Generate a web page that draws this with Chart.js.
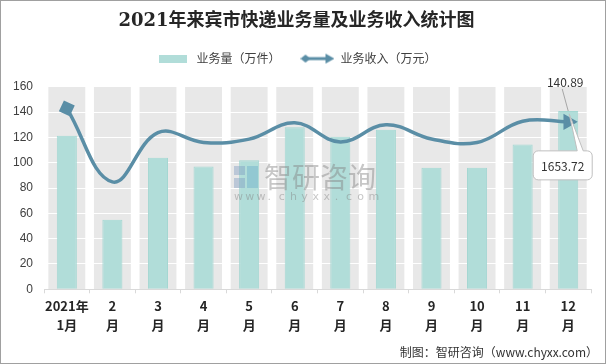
<!DOCTYPE html>
<html>
<head>
<meta charset="utf-8">
<script src="https://cdn.jsdelivr.net/npm/chart.js@4.4.0/dist/chart.umd.min.js"></script>
<style>
html, body { margin: 0; padding: 0; background: #fff; }
#wrap { width: 606px; height: 364px; }
</style>
</head>
<body>
<div id="wrap"><canvas id="chart" width="606" height="364"></canvas></div>
<script>
// data
const months = [["2021年", "1月"], ["2", "月"], ["3", "月"], ["4", "月"], ["5", "月"], ["6", "月"],
                ["7", "月"], ["8", "月"], ["9", "月"], ["10", "月"], ["11", "月"], ["12", "月"]];
const volume = [121.3, 54.9, 104, 97, 102, 128, 120.5, 126, 96, 96, 114.5, 140.89];   // 万件
const revenue = [1787, 1061, 1547, 1450, 1483, 1644, 1456, 1625, 1485, 1450, 1660, 1653.72]; // 万元
const volumeLabel = "业务量（万件）";
const revenueLabel = "业务收入（万元）";

const barColor = "#B1DDD9";
const lineColor = "#5A8EA6";
const cjk = "'Noto Sans CJK SC', 'Noto Sans', sans-serif";

function makeIcon(w, h, draw) {
    var c = document.createElement("canvas");
    c.width = w; c.height = h;
    draw(c.getContext("2d"));
    return c;
}
const boxIcon = makeIcon(28, 8, function (ctx) {
    ctx.fillStyle = barColor;
    ctx.fillRect(0, 0, 28, 8);
});
const arrowIcon = makeIcon(34, 12, function (ctx) {
    ctx.strokeStyle = lineColor;
    ctx.fillStyle = lineColor;
    ctx.lineWidth = 3;
    ctx.beginPath(); ctx.moveTo(5, 6); ctx.lineTo(28, 6); ctx.stroke();
    ctx.beginPath(); ctx.moveTo(0, 6); ctx.lineTo(5, 2); ctx.lineTo(10, 6); ctx.lineTo(5, 10); ctx.closePath(); ctx.fill();
    ctx.beginPath(); ctx.moveTo(34, 6); ctx.lineTo(25, 1); ctx.lineTo(25, 11); ctx.closePath(); ctx.fill();
});

// gray column bands behind the grid
const bandPlugin = {
    id: "bands",
    beforeDraw: function (chart) {
        var ctx = chart.ctx;
        var x = chart.scales.x, y = chart.scales.y;
        ctx.save();
        ctx.fillStyle = "#fff";
        ctx.fillRect(0, 0, chart.width, chart.height);
        var step = x.width / months.length;
        var w = step * 0.81;
        var top = y.getPixelForValue(160);
        ctx.fillStyle = "#E8E8E8";
        for (var i = 0; i < months.length; i++) {
            var cx = x.getPixelForValue(i);
            ctx.fillRect(cx - w / 2, top, w, y.getPixelForValue(0) - top);
        }
        ctx.restore();
    }
};

const extrasPlugin = {
    id: "extras",
    afterDatasetsDraw: function (chart) {
        var ctx = chart.ctx;
        ctx.save();
        // watermark
        ctx.fillStyle = "rgba(120,150,190,0.4)";
        ctx.fillRect(234, 166, 11, 9);
        ctx.fillRect(234, 178, 11, 10);
        ctx.fillStyle = "rgba(100,170,200,0.4)";
        ctx.fillRect(247, 166, 11, 22);
        ctx.fillStyle = "rgba(130,130,130,0.45)";
        ctx.font = "28px " + cjk;
        ctx.textBaseline = "middle";
        ctx.textAlign = "left";
        ctx.fillText("智研咨询", 264, 177);
        ctx.font = "11px 'DejaVu Sans', sans-serif";
        var s = "www.chyxx.com";
        for (var i = 0; i < s.length; i++) {
            ctx.fillText(s[i], 234 + i * 11.2, 197);
        }

        // bar value label
        var bar = chart.getDatasetMeta(0).data[11];
        ctx.strokeStyle = "#A6A6A6";
        ctx.lineWidth = 1;
        ctx.beginPath();
        ctx.moveTo(bar.x - 6, bar.y - 22);
        ctx.lineTo(bar.x, bar.y);
        ctx.stroke();
        ctx.fillStyle = "#333";
        ctx.font = "12px " + cjk;
        ctx.textAlign = "center";
        ctx.fillText(volume[11].toFixed(2), bar.x - 3, bar.y - 29);

        // callout for the line value
        var pt = chart.getDatasetMeta(1).data[11];
        var bx = pt.x - 35, by = pt.y + 29, bw = 59, bh = 29, r = 5;
        ctx.fillStyle = "#fff";
        ctx.strokeStyle = "#BFBFBF";
        ctx.beginPath();
        ctx.moveTo(bx + r, by);
        ctx.lineTo(pt.x + 9, by);
        ctx.lineTo(pt.x + 1, pt.y - 8);
        ctx.lineTo(pt.x + 15, by);
        ctx.lineTo(bx + bw - r, by);
        ctx.arcTo(bx + bw, by, bx + bw, by + r, r);
        ctx.lineTo(bx + bw, by + bh - r);
        ctx.arcTo(bx + bw, by + bh, bx + bw - r, by + bh, r);
        ctx.lineTo(bx + r, by + bh);
        ctx.arcTo(bx, by + bh, bx, by + bh - r, r);
        ctx.lineTo(bx, by + r);
        ctx.arcTo(bx, by, bx + r, by, r);
        ctx.closePath();
        ctx.fill();
        ctx.stroke();
        ctx.fillStyle = "#333";
        ctx.fillText(revenue[11].toFixed(2), bx + bw / 2, by + bh / 2 + 1);
        ctx.restore();
    },
    afterDraw: function (chart) {
        var ctx = chart.ctx;
        ctx.save();
        ctx.fillStyle = "#333";
        ctx.font = "12px " + cjk;
        ctx.textAlign = "right";
        ctx.textBaseline = "middle";
        ctx.fillText("制图：智研咨询（www.chyxx.com）", 598, 352);
        ctx.strokeStyle = "#A0A0A0";
        ctx.lineWidth = 1;
        ctx.strokeRect(0.5, 0.5, chart.width - 1, chart.height - 1);
        ctx.restore();
    }
};

var pointStyles = revenue.map(function (v, i) { return i == 0 ? "rect" : (i == revenue.length - 1 ? "triangle" : false); });
var pointRadii = revenue.map(function (v, i) { return (i == 0 || i == revenue.length - 1) ? 6 : 0; });
var pointRot = revenue.map(function (v, i) { return i == 0 ? 25 : 90; });

var ctx = document.getElementById("chart").getContext("2d");
var chart = new Chart(ctx, {
    type: "bar",
    data: {
        labels: months,
        datasets: [{
            label: volumeLabel,
            data: volume,
            backgroundColor: barColor,
            borderColor: "#A4D7D2",
            borderWidth: 1,
            barPercentage: 0.44,
            categoryPercentage: 1,
            yAxisID: "y",
            order: 2
        }, {
            type: "line",
            label: revenueLabel,
            data: revenue,
            borderColor: lineColor,
            backgroundColor: lineColor,
            borderWidth: 3.5,
            tension: 0.4,
            pointStyle: pointStyles,
            pointRadius: pointRadii,
            pointRotation: pointRot,
            pointBackgroundColor: lineColor,
            pointBorderColor: lineColor,
            yAxisID: "y1",
            order: 1
        }]
    },
    options: {
        responsive: false,
        animation: false,
        layout: { padding: { left: 2, right: 15, top: 0, bottom: 27 } },
        plugins: {
            title: {
                display: true,
                text: "2021年来宾市快递业务量及业务收入统计图",
                color: "#262626",
                font: { family: "'DejaVu Serif', 'Noto Sans CJK SC', serif", size: 18, weight: "bold" },
                padding: { top: 11, bottom: 0 }
            },
            // empty spacer between legend and plot
            subtitle: {
                display: true,
                text: " ",
                weight: 500,
                font: { size: 1 },
                padding: { top: 0, bottom: 11 }
            },
            legend: {
                display: true,
                position: "top",
                labels: {
                    usePointStyle: true,
                    pointStyleWidth: 34,
                    boxHeight: 12,
                    color: "#404040",
                    padding: 20,
                    font: { family: cjk, size: 12 },
                    generateLabels: function (chart) {
                        var items = Chart.defaults.plugins.legend.labels.generateLabels(chart);
                        items.sort(function (a, b) { return a.datasetIndex - b.datasetIndex; });
                        items.forEach(function (it) {
                            it.pointStyle = it.datasetIndex == 0 ? boxIcon : arrowIcon;
                            it.rotation = 0;
                        });
                        return items;
                    }
                }
            },
            tooltip: { enabled: false }
        },
        scales: {
            x: {
                offset: true,
                grid: { display: true, drawOnChartArea: false, drawTicks: true, tickLength: 4, color: "#D9D9D9", offset: true },
                border: { color: "#D9D9D9" },
                ticks: {
                    color: "#262626",
                    maxRotation: 0,
                    autoSkip: false,
                    padding: 3,
                    font: { family: cjk, size: 13, weight: "bold", lineHeight: 1.45 }
                }
            },
            y: {
                min: 0,
                max: 160,
                ticks: { stepSize: 20, color: "#404040", padding: 11, font: { family: "'Liberation Sans', 'DejaVu Sans', sans-serif", size: 12 } },
                grid: { color: "#FFFFFF", lineWidth: 1, drawTicks: false },
                border: { display: false }
            },
            y1: {
                display: false,
                min: 0,
                max: 2000,
                position: "right",
                grid: { drawOnChartArea: false }
            }
        }
    },
    plugins: [bandPlugin, extrasPlugin]
});
</script>
</body>
</html>
